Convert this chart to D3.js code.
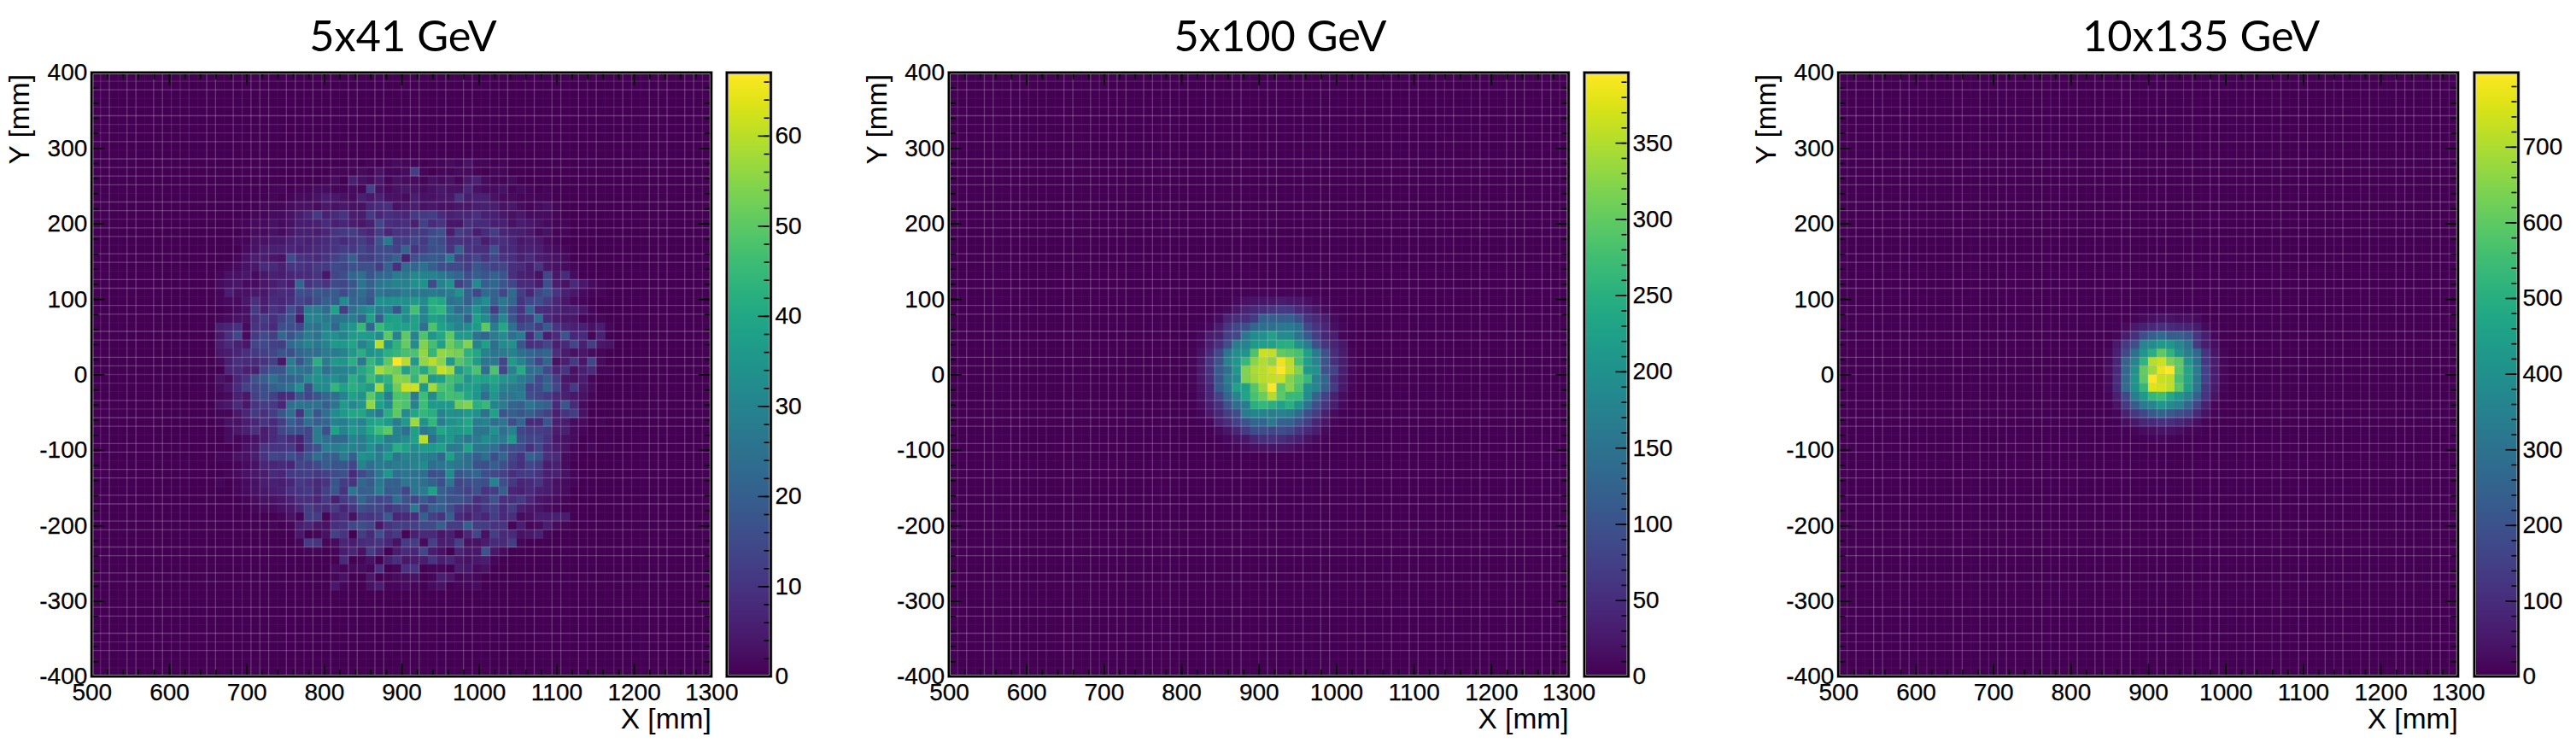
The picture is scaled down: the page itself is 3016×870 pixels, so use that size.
<!DOCTYPE html>
<html><head><meta charset="utf-8">
<script src="https://cdn.jsdelivr.net/npm/d3@7"></script>
<style>
html,body{margin:0;padding:0;background:#fff}
svg{display:block}
text{font-family:"Liberation Sans",Arial,sans-serif;fill:#000}
.title{font-family:Lato,"Noto Sans",sans-serif;font-size:50.5px}
.domain{display:none}
</style></head><body>
<script>
// ---- axis tick values ----
const xTicks=[500,600,700,800,900,1000,1100,1200,1300];
const yTicks=[-400,-300,-200,-100,0,100,200,300,400];
const titles=["5x41 GeV","5x100 GeV","10x135 GeV"];
const colorMax=[67,396,798];
const colorTicks=[[0,10,20,30,40,50,60],[0,50,100,150,200,250,300,350],[0,100,200,300,400,500,600,700]];
const colorMinorStep=[2,10,20];
// ---- histogram bins: 70x70, X 500..1300, Y 400..-400, row index from the top ----
const binCount=70;
// 5x41 GeV: first row j=10, first column k=14
const counts5x41=[
[0,0,0,0,0,0,0,0,0,0,0,0,0,0,0,1,0,1,0,1,2,1,1,0,1,1,2,1,3,1,1,0,1,0,0,0,0,0,0,0,0,0,0,0,0,0,0,0],
[0,0,0,0,0,0,0,0,0,0,0,0,0,1,1,1,2,1,3,1,1,2,12,1,0,1,1,2,2,1,0,1,1,0,0,0,0,0,0,0,0,0,0,0,0,0,0,0],
[0,0,0,0,0,0,0,0,0,0,0,0,1,2,0,6,3,2,4,1,3,2,2,1,3,2,3,1,4,6,2,1,1,2,0,0,0,0,0,0,0,0,0,0,0,0,0,0],
[0,0,0,0,0,0,1,1,0,1,1,2,2,1,1,2,1,13,3,2,3,4,3,2,3,4,3,3,7,3,2,2,3,1,2,1,0,1,0,0,0,0,0,0,0,0,0,0],
[0,0,0,0,0,0,1,0,1,2,2,3,5,4,3,2,6,4,6,3,3,2,5,3,3,4,4,10,5,6,6,3,2,2,1,1,1,1,0,0,0,0,0,0,0,0,0,0],
[0,0,0,0,0,1,1,1,2,3,3,2,4,3,4,3,3,7,8,9,3,4,5,3,4,3,3,4,4,5,6,5,3,4,2,1,2,3,1,0,0,0,0,0,0,0,0,0],
[0,0,0,0,1,1,2,2,3,5,7,11,6,8,10,5,5,11,7,9,8,7,11,11,12,8,6,7,7,9,6,6,4,3,4,2,2,2,1,0,0,0,0,0,0,0,0,0],
[0,0,1,1,2,2,3,2,3,5,5,6,8,6,7,5,4,6,14,9,8,9,6,13,8,10,4,4,9,8,8,6,6,3,5,4,3,2,1,1,0,0,0,0,0,0,0,0],
[0,0,0,1,2,2,3,2,4,6,6,5,7,10,11,12,9,7,12,7,10,10,12,11,15,17,5,12,10,5,8,12,7,6,5,4,2,3,1,1,0,0,0,0,0,0,0,0],
[0,0,1,1,3,3,4,4,6,7,6,7,8,10,8,10,12,9,17,27,12,12,14,11,17,15,9,10,9,10,5,9,9,7,4,5,4,2,1,0,0,0,0,0,0,0,0,0],
[0,0,0,2,3,5,6,6,7,6,7,8,9,10,12,11,14,11,15,15,13,21,10,13,16,17,10,21,10,9,9,17,8,8,5,6,5,3,2,1,0,0,0,0,0,0,0,0],
[0,0,1,3,5,5,4,3,15,10,9,8,10,13,15,20,13,12,15,17,21,6,16,18,19,18,27,13,11,14,10,14,10,9,6,8,5,4,3,2,0,0,0,0,0,0,0,0],
[0,1,2,3,4,8,8,6,10,10,9,11,11,15,14,17,16,16,12,21,9,23,22,25,20,16,15,15,12,18,15,13,14,9,8,5,10,4,3,2,1,0,0,0,0,0,0,0],
[1,3,3,4,2,4,6,5,7,8,8,10,4,14,16,22,24,18,22,23,28,27,31,30,30,27,24,22,16,20,18,21,18,9,6,5,3,14,4,8,2,0,0,0,0,0,0,0],
[2,3,4,2,2,4,5,7,5,22,10,12,10,15,14,18,26,21,26,28,30,29,33,34,15,30,34,13,17,32,20,22,18,14,8,8,5,16,5,3,8,4,2,1,0,0,0,0],
[1,5,3,3,4,4,7,8,8,16,15,18,17,19,15,20,24,19,26,24,25,28,27,26,28,26,28,34,21,14,23,21,14,23,12,7,14,18,10,6,4,2,1,1,0,0,0,0],
[1,2,2,4,9,5,8,7,9,14,12,16,20,19,32,22,22,18,34,33,34,33,36,32,42,40,25,27,20,28,33,20,27,22,10,14,16,12,7,4,2,1,0,0,0,0,0,0],
[0,1,2,3,11,6,10,8,16,10,28,28,23,38,12,24,30,33,28,30,18,33,47,30,42,44,31,23,26,34,27,12,24,16,10,22,9,8,7,5,6,4,1,0,0,0,0,0],
[1,2,3,3,9,12,9,13,17,4,30,30,27,25,26,28,22,38,20,37,38,32,38,30,38,36,30,29,20,38,32,20,31,18,10,12,24,8,5,4,4,1,1,1,0,0,0,0],
[6,7,9,2,10,10,8,16,16,14,26,25,30,22,32,35,45,22,45,40,38,38,38,24,48,38,35,30,32,36,50,28,40,25,14,16,12,19,10,7,6,6,3,5,1,0,0,0],
[4,9,14,2,11,15,12,22,17,22,28,25,32,33,30,36,37,36,32,50,30,50,30,48,35,40,50,36,36,25,22,28,32,24,28,8,21,5,8,17,7,8,1,6,0,0,0,0],
[5,8,6,4,14,15,13,12,23,26,30,27,30,36,36,39,30,36,60,34,43,51,32,54,47,38,52,47,54,30,38,24,32,34,18,9,10,14,6,8,14,6,12,4,3,0,0,0],
[4,5,7,9,11,13,14,18,16,22,24,24,28,28,30,36,42,34,36,42,44,47,48,56,44,56,54,53,43,40,30,26,28,30,24,22,20,22,9,5,3,4,2,1,0,0,0,0],
[2,6,9,8,8,10,13,4,28,18,26,42,28,36,35,42,27,44,38,50,67,60,36,56,60,55,36,49,45,37,26,27,14,36,30,22,14,22,3,6,11,4,14,2,0,0,0,0],
[0,7,8,6,6,14,18,18,28,26,24,34,24,30,30,32,40,44,58,54,52,38,46,40,50,61,58,36,42,48,24,48,14,30,41,24,24,15,7,10,3,6,8,1,1,0,0,0],
[3,2,7,10,17,20,25,20,21,23,32,34,32,33,30,42,36,46,40,43,55,54,44,56,36,38,47,44,35,40,38,40,35,33,28,24,15,20,12,4,3,5,1,0,0,0,0,0],
[2,4,8,13,14,16,20,22,25,33,16,32,32,44,38,42,40,36,58,40,52,62,62,36,58,48,46,36,38,36,30,37,30,28,26,14,15,22,14,5,11,4,2,0,0,0,0,0],
[1,2,6,4,13,16,13,8,9,18,14,18,22,24,30,38,34,50,40,28,48,48,28,46,32,44,47,46,40,35,24,35,26,26,28,16,14,12,8,6,4,3,1,0,0,0,0,0],
[3,4,8,4,10,12,11,7,24,26,25,25,20,26,36,31,35,56,38,32,50,48,30,46,36,36,36,52,54,42,45,30,28,22,20,26,22,20,8,18,8,2,0,0,0,0,0,0],
[1,1,4,7,11,9,12,18,24,10,28,18,24,32,36,40,40,32,26,42,50,32,40,44,42,30,34,33,36,33,25,38,18,20,18,20,16,13,6,10,12,3,0,0,0,0,0,0],
[1,3,3,5,7,10,8,12,20,16,24,20,22,30,28,33,30,38,40,36,28,36,57,34,44,28,34,36,40,28,30,24,26,16,22,8,8,18,6,5,2,2,0,1,0,0,0,0],
[0,2,4,6,9,5,8,14,17,16,14,28,16,38,30,36,33,40,46,50,30,24,38,26,30,40,36,36,38,26,26,34,24,30,14,12,12,11,5,6,2,1,0,0,0,0,0,0],
[0,2,1,2,3,5,8,10,8,6,14,28,24,22,22,30,28,34,36,28,30,32,38,60,24,32,36,30,26,28,32,30,28,36,16,14,14,10,4,3,2,0,0,0,0,0,0,0],
[0,0,1,3,4,10,10,10,11,5,14,17,28,28,30,30,28,33,26,31,42,38,32,36,36,38,28,28,38,26,26,24,18,16,15,9,14,8,5,3,1,0,1,0,0,0,0,0],
[1,1,3,3,5,10,14,13,16,13,18,24,20,20,28,20,34,32,28,36,26,30,30,30,28,22,38,28,24,20,24,16,22,14,10,21,18,9,8,2,1,0,0,0,0,0,0,0],
[0,0,1,2,3,7,7,8,7,14,13,15,19,18,18,14,30,24,28,26,28,28,30,32,24,26,28,26,24,17,16,20,16,12,9,14,12,5,6,2,0,0,0,0,0,0,0,0],
[0,1,2,3,4,5,8,7,11,12,13,11,13,15,17,8,15,19,26,35,24,26,25,24,16,18,32,18,20,22,16,15,13,9,11,12,10,6,6,3,1,0,0,0,0,0,0,0],
[1,0,1,2,3,5,6,5,7,11,10,8,10,18,12,10,22,19,27,21,20,26,26,24,21,16,26,14,16,17,16,30,16,11,7,8,10,5,3,2,1,0,0,0,0,0,0,0],
[0,0,1,2,3,4,5,6,9,10,11,8,13,18,10,26,20,21,28,19,20,14,26,28,38,20,18,15,13,16,10,12,20,7,6,8,6,5,3,2,0,0,0,0,0,0,0,0],
[0,0,0,1,2,3,3,4,6,9,9,7,11,6,11,14,22,17,14,15,24,17,14,19,15,20,17,18,15,9,11,17,9,9,11,7,4,3,2,1,0,0,0,0,0,0,0,0],
[0,0,0,0,1,2,2,3,4,7,12,9,8,11,7,10,16,14,14,10,13,14,27,12,20,20,16,11,9,8,11,13,8,12,6,4,3,2,1,0,0,0,0,0,0,0,0,0],
[0,0,0,0,0,0,0,1,3,1,12,12,1,7,9,3,11,10,12,19,7,8,9,20,13,10,20,8,6,9,7,12,8,9,2,3,5,5,6,5,0,0,0,0,0,0,0,0],
[0,0,0,0,0,0,1,0,1,5,7,4,3,9,10,14,16,14,4,10,12,12,13,15,15,20,12,12,20,12,12,10,10,1,5,1,2,5,2,1,0,0,0,0,0,0,0,0],
[0,0,0,0,0,0,0,0,0,4,0,1,3,13,10,0,12,8,16,9,11,1,6,8,8,4,6,2,7,14,3,12,8,8,3,4,6,1,0,0,0,0,0,0,0,0,0,0],
[0,0,0,0,0,0,0,0,0,1,11,10,1,2,7,5,8,9,10,7,3,11,12,2,13,5,6,13,3,3,5,8,8,12,1,0,0,0,0,0,0,0,0,0,0,0,0,0],
[0,0,0,0,0,0,0,0,0,0,1,1,0,1,5,7,3,12,7,0,5,8,7,14,5,3,0,7,4,4,17,4,2,0,0,0,0,0,0,0,0,0,0,0,0,0,0,0],
[0,0,0,0,0,0,0,0,0,0,0,0,0,0,8,0,1,3,0,6,9,4,5,5,10,5,7,4,3,4,5,1,0,0,0,0,0,0,0,0,0,0,0,0,0,0,0,0],
[0,0,0,0,0,0,0,0,0,0,0,0,0,2,1,2,2,1,9,0,1,9,10,0,1,1,0,5,4,2,3,0,0,0,0,0,0,0,0,0,0,0,0,0,0,0,0,0],
[0,0,0,0,0,0,0,0,0,0,0,0,0,1,3,0,0,4,0,1,2,2,3,0,1,5,4,1,2,1,0,0,0,0,0,0,0,0,0,0,0,0,0,0,0,0,0,0],
[0,0,0,0,0,0,0,0,0,0,0,0,0,4,1,0,0,3,5,1,1,2,1,0,2,3,0,1,1,2,0,0,0,0,0,0,0,0,0,0,0,0,0,0,0,0,0,0]
];
// 5x100 GeV: first row j=25, first column k=26
const counts5x100=[
[0,0,0,0,0,0,2,3,4,5,5,4,5,4,3,2,1,0,0,0,0],
[0,0,0,0,0,3,8,16,20,22,22,28,24,22,16,8,4,2,0,0,0],
[0,0,0,0,4,10,22,38,44,52,60,66,62,44,36,22,10,4,2,0,0],
[0,0,0,4,12,38,48,52,68,120,120,115,118,95,56,44,30,10,3,0,0],
[0,0,2,8,28,60,82,95,130,145,145,160,160,145,85,60,42,14,5,0,0],
[0,0,8,28,35,70,85,155,190,195,225,190,190,150,110,70,42,30,6,2,0],
[0,2,10,32,50,90,165,175,215,220,225,245,250,200,165,95,60,40,22,3,0],
[0,4,18,44,82,155,195,205,285,365,358,300,290,280,225,165,100,50,28,6,0],
[0,6,22,60,100,175,210,265,325,350,330,385,355,280,220,180,105,55,30,8,0],
[0,6,25,55,110,150,210,320,345,355,370,396,360,320,215,200,100,75,30,8,0],
[0,6,24,50,105,165,190,320,340,355,360,365,320,295,265,175,130,55,25,6,0],
[0,4,20,42,110,155,225,225,290,335,396,290,325,285,200,180,120,65,26,5,0],
[0,2,15,40,75,130,175,230,280,305,350,295,265,265,190,125,75,35,12,2,0],
[0,2,12,30,55,100,140,165,250,260,250,225,250,200,150,95,60,30,8,0,0],
[0,0,6,24,42,70,90,165,180,175,170,175,165,135,95,70,35,12,3,0,0],
[0,0,2,8,35,50,75,100,130,130,160,125,120,95,70,40,22,6,0,0,0],
[0,0,0,3,10,22,42,65,90,90,85,90,85,60,45,30,10,3,0,0,0],
[0,0,0,0,3,8,18,22,42,50,55,48,40,30,20,10,4,0,0,0,0],
[0,0,0,0,0,2,5,10,14,18,18,20,16,10,6,3,0,0,0,0,0]
];
// 10x135 GeV: first row j=27, first column k=29
const counts10x135=[
[0,0,0,0,2,4,6,8,10,8,6,4,2,0,0,0],
[0,0,0,2,8,20,30,40,35,28,30,20,6,2,0,0],
[0,0,4,20,50,70,90,105,95,85,80,55,20,6,0,0],
[0,0,10,55,110,190,235,270,230,240,210,120,65,18,2,0],
[0,4,50,130,190,360,380,430,420,370,300,130,60,25,4,0],
[0,15,70,170,290,420,500,600,520,420,340,270,120,45,12,0],
[0,20,85,250,360,520,710,735,640,600,420,300,130,60,15,0],
[2,25,90,260,400,610,680,770,798,600,470,330,150,60,15,0],
[2,20,100,270,420,600,798,730,720,570,470,320,150,60,15,0],
[0,20,95,280,400,530,760,750,720,600,450,310,130,55,12,0],
[0,10,70,170,340,430,530,550,480,420,350,240,120,40,5,0],
[0,4,40,130,230,330,360,420,380,350,260,160,70,15,2,0],
[0,0,12,70,130,170,220,250,220,190,160,90,35,8,0,0],
[0,0,4,25,50,85,90,110,100,85,65,30,8,2,0,0],
[0,0,0,4,12,24,30,40,35,25,15,8,0,0,0,0],
[0,0,0,0,2,5,8,10,8,6,3,0,0,0,0,0]
];
const histograms=[counts5x41,counts5x100,counts10x135];
const firstRow=[10,25,27], firstCol=[14,26,29];

// ---- layout and style (not data) ----
const W=3016,H=870,plotTop=85,plotBottom=792,plotW=725.5;
const plotLeft=[107.3,1111,2152.3];
const barLeft=[851,1855,2897], barW=51.5;
const titleX=[472,1499,2577];
const edgeWeightX="012022022111022021222022121202202201220120220112012022021201210222022100".slice(0,71);
const edgeWeightY="012012112022220221220220220220220221102122022022022022022022002202120";
const weightAlpha=[0.04,0.13,0.22];

const svg=d3.select("body").append("svg").attr("width",W).attr("height",H);
const fullBins=d3.range(binCount+1).map(i=>i/binCount);

titles.forEach((t,p)=>{
  const x=d3.scaleLinear().domain([500,1300]).range([plotLeft[p],plotLeft[p]+plotW]);
  const y=d3.scaleLinear().domain([-400,400]).range([plotBottom,plotTop]);
  const color=d3.scaleSequential(d3.interpolateViridis).domain([0,colorMax[p]]).clamp(true);
  const binX=k=>x(500+800*k/binCount), binY=j=>y(400-800*j/binCount);
  const g=svg.append("g");
  g.append("rect").attr("x",plotLeft[p]).attr("y",plotTop).attr("width",plotW).attr("height",plotBottom-plotTop).attr("fill",color(0));
  const cells=[];
  histograms[p].forEach((row,r)=>row.forEach((v,c)=>{ if(v>0) cells.push({k:firstCol[p]+c,j:firstRow[p]+r,v}); }));
  g.append("g").selectAll("rect").data(cells).join("rect")
    .attr("x",d=>binX(d.k)).attr("y",d=>binY(d.j))
    .attr("width",d=>binX(d.k+1)-binX(d.k)+0.3).attr("height",d=>binY(d.j+1)-binY(d.j)+0.3)
    .attr("fill",d=>color(d.v));
  // bin-edge mesh lines
  const mesh=g.append("g").attr("stroke","#fff").attr("stroke-width",1.3);
  fullBins.forEach((f,i)=>{
    const px=binX(i),py=binY(i);
    mesh.append("line").attr("x1",px).attr("x2",px).attr("y1",plotTop).attr("y2",plotBottom).attr("stroke-opacity",weightAlpha[+edgeWeightX[i]||0]);
    mesh.append("line").attr("y1",py).attr("y2",py).attr("x1",plotLeft[p]).attr("x2",plotLeft[p]+plotW).attr("stroke-opacity",weightAlpha[+edgeWeightY[i]||0]);
  });
  // axes
  const xMinor=d3.range(500,1301,20), yMinor=d3.range(-400,401,20);
  const style=a=>{a.selectAll("text").attr("font-size",28).attr("font-family","'Liberation Sans',Arial,sans-serif").attr("stroke","#000").attr("stroke-width",0.25);a.selectAll("line").attr("stroke","#000").attr("stroke-width",1.6);return a;};
  const add=(axis,tx,ty)=>style(g.append("g").attr("transform",`translate(${tx},${ty})`).call(axis));
  add(d3.axisBottom(x).tickValues(xTicks).tickFormat(String).tickSize(-15).tickPadding(8),0,plotBottom);
  add(d3.axisBottom(x).tickValues(xMinor).tickFormat("").tickSize(-8),0,plotBottom);
  add(d3.axisTop(x).tickValues(xTicks).tickFormat("").tickSize(-15),0,plotTop);
  add(d3.axisTop(x).tickValues(xMinor).tickFormat("").tickSize(-8),0,plotTop);
  add(d3.axisLeft(y).tickValues(yTicks).tickFormat(String).tickSize(-15).tickPadding(5),plotLeft[p],0);
  add(d3.axisLeft(y).tickValues(yMinor).tickFormat("").tickSize(-8),plotLeft[p],0);
  add(d3.axisRight(y).tickValues(yTicks).tickFormat("").tickSize(-15),plotLeft[p]+plotW,0);
  add(d3.axisRight(y).tickValues(yMinor).tickFormat("").tickSize(-8),plotLeft[p]+plotW,0);
  // frame
  const frame=(fx,fw)=>{
    g.append("rect").attr("x",fx).attr("y",plotTop).attr("width",fw).attr("height",plotBottom-plotTop).attr("fill","none").attr("stroke","#bbb").attr("stroke-width",4);
    g.append("rect").attr("x",fx).attr("y",plotTop).attr("width",fw).attr("height",plotBottom-plotTop).attr("fill","none").attr("stroke","#000").attr("stroke-width",2.6);
  };
  frame(plotLeft[p],plotW);
  // labels
  g.append("text").attr("x",plotLeft[p]+plotW).attr("y",853).attr("text-anchor","end").attr("font-size",33.5).text("X [mm]");
  g.append("text").attr("transform",`translate(${plotLeft[p]-73},${plotTop+2}) rotate(-90)`).attr("text-anchor","end").attr("font-size",33.5).text("Y [mm]");
  g.append("text").attr("class","title").attr("x",titleX[p]).attr("y",60).attr("text-anchor","middle").text(t);
  // colour bar
  const cb=d3.scaleLinear().domain([0,colorMax[p]]).range([plotBottom,plotTop]);
  const steps=d3.range(0,plotBottom-plotTop);
  g.append("g").selectAll("rect").data(steps).join("rect")
    .attr("x",barLeft[p]).attr("width",barW).attr("y",d=>plotTop+d).attr("height",1.4)
    .attr("fill",d=>color(cb.invert(plotTop+d+0.5)));
  add(d3.axisRight(cb).tickValues(colorTicks[p]).tickFormat(String).tickSize(-15).tickPadding(5),barLeft[p]+barW,0);
  add(d3.axisRight(cb).tickValues(d3.range(0,colorMax[p],colorMinorStep[p])).tickFormat("").tickSize(-8),barLeft[p]+barW,0);
  frame(barLeft[p],barW);
});
</script>
</body></html>
